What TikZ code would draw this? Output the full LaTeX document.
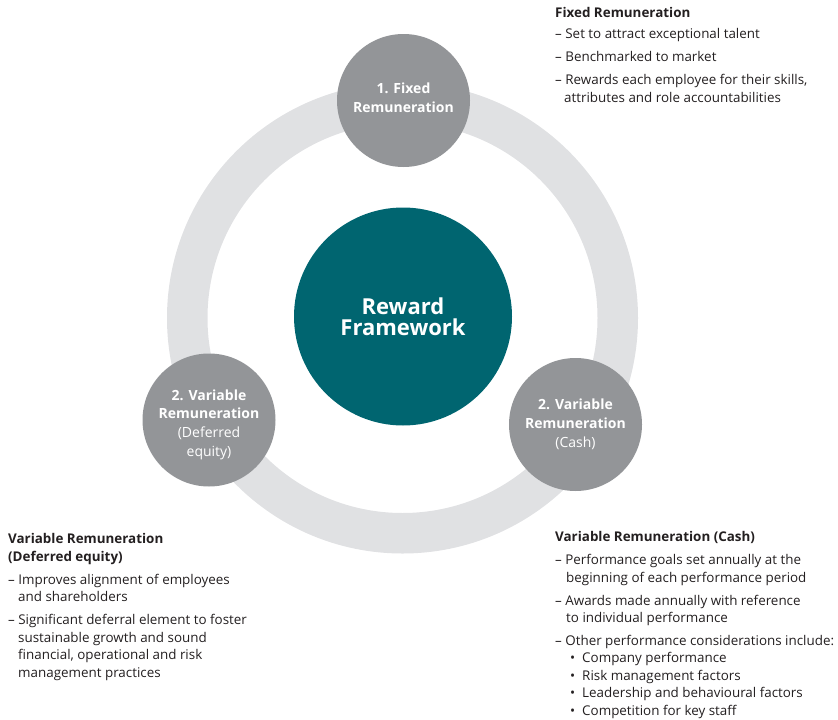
\documentclass[tikz,border=0pt]{standalone}
\usepackage{fontspec}
\setmainfont{Open Sans}
\definecolor{ringgrey}{RGB}{224,225,227}
\definecolor{dotgrey}{RGB}{147,149,152}
\definecolor{hubteal}{RGB}{0,101,112}
\definecolor{bodyink}{RGB}{35,31,32}
\tikzset{
  dot/.style={circle, fill=dotgrey, minimum size=133pt, inner sep=0pt,
    text=white, align=center, font=\fontsize{14}{18.8}\selectfont},
  hub/.style={circle, fill=hubteal, minimum size=218pt, inner sep=0pt,
    text=white, align=center, font=\fontsize{22}{21.5}\selectfont\bfseries},
  notes/.style={anchor=base west, inner sep=0pt, align=left, text=bodyink,
    font=\fontsize{13.4}{17.4}\selectfont}
}
\newcommand{\gap}{\\[5.6pt]}
\begin{document}
\begin{tikzpicture}[x=1pt, y=-1pt]
		\useasboundingbox (0,0) rectangle (838,720);
		% grey ring behind the circles
		\fill[ringgrey, even odd rule] (402.5,318) circle (235.5pt) (402.5,318) circle (195pt);
		\node[hub] (reward) at (403,316.5) {Reward\\Framework};
		% the struts nudge the labels off the circle centres
		\node[dot] (fixed) at (403.5,100.5) {\textbf{1. Fixed}\\\textbf{Remuneration}\rule[-5pt]{0pt}{0pt}};
		\node[dot] (deferred) at (209,420) {\rule{0pt}{20pt}\textbf{2. Variable}\\\textbf{Remuneration}\\(Deferred\\equity)};
		\node[dot] (cash) at (575.5,424.5) {\textbf{2. Variable}\\\textbf{Remuneration}\\(Cash)};
		% notes beside each circle (anchored on their last line)
		\node[notes] (fixednotes) at (555,102) {\textbf{Fixed Remuneration}\\[3.4pt]
			– Set to attract exceptional talent\gap
			– Benchmarked to market\gap
			– Rewards each employee for their skills,\\
			\hspace*{9pt}attributes and role accountabilities};
		\node[notes] (deferrednotes) at (8,677) {\textbf{Variable Remuneration}\\
			\textbf{(Deferred equity)}\\[6pt]
			– Improves alignment of employees\\
			\hspace*{10pt}and shareholders\gap
			– Significant deferral element to foster\\
			\hspace*{10pt}sustainable growth and sound\\
			\hspace*{10pt}financial, operational and risk\\
			\hspace*{10pt}management practices};
		\node[notes] (cashnotes) at (555,715) {\textbf{Variable Remuneration (Cash)}\gap
			– Performance goals set annually at the\\
			\hspace*{11pt}beginning of each performance period\gap
			– Awards made annually with reference\\
			\hspace*{11pt}to individual performance\gap
			– Other performance considerations include:\\
			\hspace*{15pt}\textbullet\hspace{7pt}Company performance\\
			\hspace*{15pt}\textbullet\hspace{7pt}Risk management factors\\
			\hspace*{15pt}\textbullet\hspace{7pt}Leadership and behavioural factors\\
			\hspace*{15pt}\textbullet\hspace{7pt}Competition for key staff};
	\end{tikzpicture}
\end{document}
